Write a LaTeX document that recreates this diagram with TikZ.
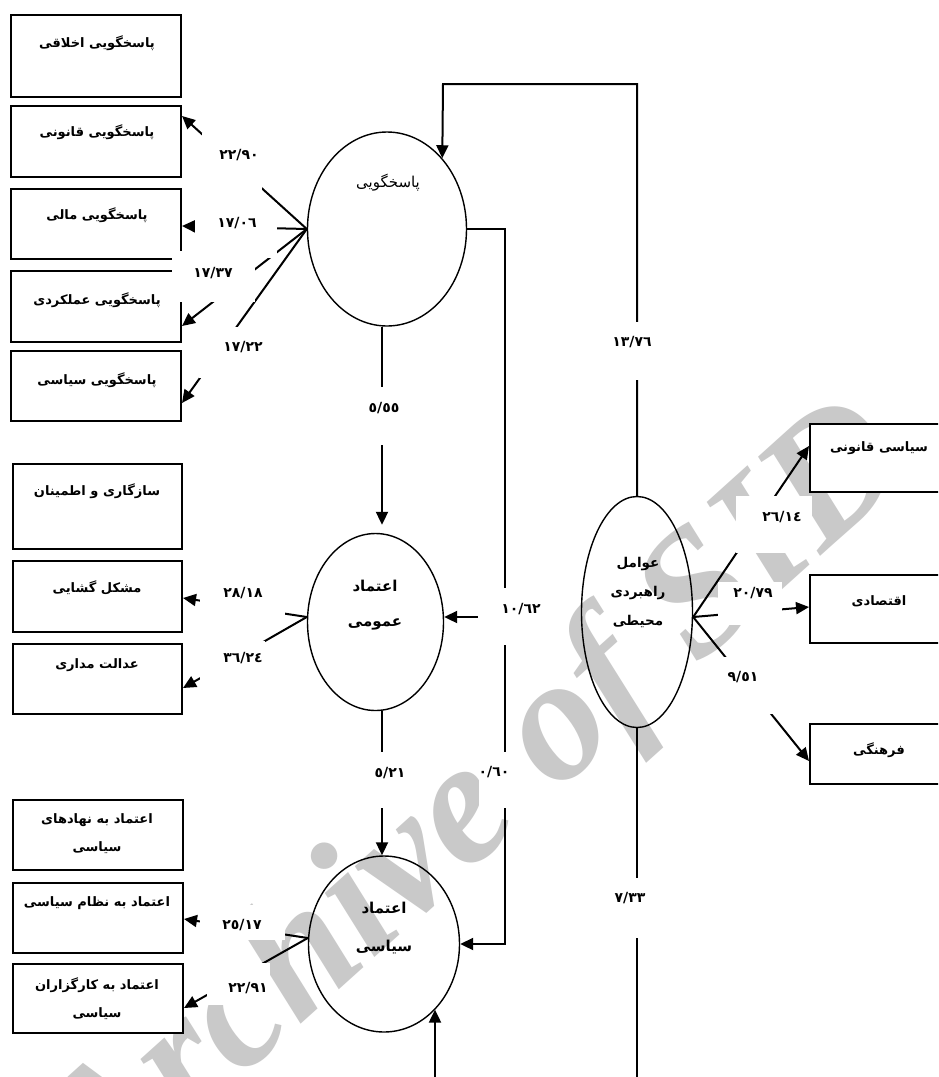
\documentclass[tikz,border=0pt]{standalone}
\usepackage{fontspec}
\usetikzlibrary{arrows.meta,shapes.geometric,calc}
\TeXXeTstate=1
\newfontfamily\arabicfont[Script=Arabic]{DejaVu Sans}
\newfontfamily\wmfont{Liberation Serif}
\newcommand{\fatext}[1]{\beginR #1\endR}
\begin{document}
\begin{tikzpicture}[x=1pt,y=-1pt,
  conn/.style={line width=2pt},
  arr/.style={line width=2pt,-{Triangle[length=13pt,width=12pt]}},
  box/.style={draw,line width=2pt,fill=white,rectangle,inner sep=0pt,anchor=north west},
  oval/.style={draw,line width=1.4pt,ellipse,inner sep=0pt},
  ftxt/.style={font=\arabicfont\bfseries\fontsize{13}{28}\selectfont,align=center,inner sep=0pt},
  num/.style={font=\arabicfont\bfseries\fontsize{14}{16}\selectfont,inner sep=0pt},
  mask/.style={fill=white},
  wm/.style={font=\wmfont\bfseries\itshape\fontsize{176}{176}\selectfont,text=black!21,inner sep=0pt}
]
\useasboundingbox (0,0) rectangle (938,1077);
\fill[white] (0,0) rectangle (938,1077);
\clip (0,0) rectangle (938,1077);

% watermark
\node[wm,rotate=42,anchor=base west] (wmark) at (102,1203) {Archive of SID};

% boxes
\node[box,minimum width=170pt,minimum height=82pt] (b1) at (10,14) {};
\node[box,minimum width=170pt,minimum height=71pt] (b2) at (10,105) {};
\node[box,minimum width=170pt,minimum height=70pt] (b3) at (10,188) {};
\node[box,minimum width=170pt,minimum height=71pt] (b4) at (10,270) {};
\node[box,minimum width=170pt,minimum height=70pt] (b5) at (10,350) {};
\node[box,minimum width=169pt,minimum height=85pt] (b6) at (12,463) {};
\node[box,minimum width=169pt,minimum height=71pt] (b7) at (12,560) {};
\node[box,minimum width=169pt,minimum height=70pt] (b8) at (12,643) {};
\node[box,minimum width=170pt,minimum height=70pt] (b9) at (12,799) {};
\node[box,minimum width=170pt,minimum height=70pt] (b10) at (12,882) {};
\node[box,minimum width=170pt,minimum height=69pt] (b11) at (12,963) {};
\node[box,minimum width=150pt,minimum height=68pt] (r1) at (809,423) {};
\node[box,minimum width=150pt,minimum height=68pt] (r2) at (809,574) {};
\node[box,minimum width=150pt,minimum height=60pt] (r3) at (809,723) {};

% ellipses
\node[oval,minimum width=159pt,minimum height=194pt] (e1) at (387,229) {};
\node[oval,minimum width=136pt,minimum height=177pt] (e2) at (375.5,622) {};
\node[oval,minimum width=151pt,minimum height=176pt] (e3) at (384,944) {};
\node[oval,minimum width=111pt,minimum height=231pt] (e4) at (637,612) {};

% coordinates
\coordinate (top1) at (443,84);
\coordinate (c1) at (505,944);
\coordinate (j1) at (505,617);
\coordinate (bot1) at (435,1085);
\coordinate (bot2) at (637,1085);

% main connectors
\draw[arr] (e4.north) |- (top1) -- (e1.52);
\draw[arr] (e1.east) -| (c1) -- (e3.east);
\draw[arr] (j1) -- (j1 -| e2.east);
\draw[arr,shorten >=8pt] ([xshift=-5pt]e1.south) -- ([xshift=-5pt]e1.south |- e2.north);
\draw[arr] ([xshift=6.5pt]e2.south) -- ([xshift=6.5pt]e2.south |- e3.north);
\draw[arr] (bot1) -- (bot1 |- e3.-52);
\draw[conn] (e4.south) -- (bot2);

% left connectors
\draw[arr] (e1.west) -- ([yshift=25.5pt]b2.east);
\draw[arr] (e1.west) -- ([yshift=-2pt]b3.east);
\draw[arr] (e1.west) -- ([yshift=-19.5pt]b4.east);
\draw[arr] (e1.west) -- ([yshift=-17pt]b5.east);
\draw[arr] ([yshift=5pt]e2.west) -- ([yshift=-1.5pt]b7.east);
\draw[arr] ([yshift=5pt]e2.west) -- ([yshift=-9pt]b8.east);
\draw[arr] ([yshift=6pt]e3.west) -- ([yshift=-1pt]b10.east);
\draw[arr] ([yshift=6pt]e3.west) -- ([yshift=-9.5pt]b11.east);

% right connectors
\draw[arr] ([yshift=-5pt]e4.east) -- ([yshift=12pt]r1.west);
\draw[arr] ([yshift=-5pt]e4.east) -- ([yshift=2pt]r2.west);
\draw[arr] ([yshift=-5pt]e4.east) -- ([yshift=-7pt]r3.west);

% label masks (white text boxes of the original)
\fill[mask] (202,133) rectangle (262,190);
\fill[mask] (195,203) rectangle (277,258);
\fill[mask] (172,251) rectangle (255,302);
\fill[mask] (199,327) rectangle (270,378);
\fill[mask] (360,387) rectangle (410,445);
\fill[mask] (602,322) rectangle (665,380);
\fill[mask] (478,588) rectangle (548,645);
\fill[mask] (200,578) rectangle (285,622);
\fill[mask] (200,641) rectangle (265,690);
\fill[mask] (200,905) rectangle (285,940);
\fill[mask] (207,963) rectangle (270,1005);
\fill[mask] (736,496) rectangle (812,553);
\fill[mask] (718,582) rectangle (782,625);
\fill[mask] (705,657) rectangle (790,714);
\fill[mask] (362,752) rectangle (415,808);
\fill[mask] (479,752) rectangle (515,808);
\fill[mask] (600,878) rectangle (665,938);

% number labels
\node[num] (n1) at (239,155) {٢٢/٩٠};
\node[num] (n2) at (237,223) {١٧/٠٦};
\node[num] (n3) at (213,273) {١٧/٣٧};
\node[num] (n4) at (243,347) {١٧/٢٢};
\node[num] (n5) at (384,408) {٥/٥٥};
\node[num] (n6) at (632,342) {١٣/٧٦};
\node[num] (n7) at (521,609) {١٠/٦٢};
\node[num] (n8) at (243,593) {٢٨/١٨};
\node[num] (n9) at (243,658) {٣٦/٢٤};
\node[num] (n10) at (242,925) {٢٥/١٧};
\node[num] (n11) at (248,988) {٢٢/٩١};
\node[num] (n12) at (782,517) {٢٦/١٤};
\node[num] (n13) at (753,593) {٢٠/٧٩};
\node[num] (n14) at (743,677) {٩/٥١};
\node[num] (n15) at (390,773) {٥/٢١};
\node[num] (n16) at (494,772) {٠/٦٠};
\node[num] (n17) at (630,898) {٧/٣٣};

% box texts
\node[ftxt] (t1) at (97,43) {\fatext{پاسخگویی اخلاقی}};
\node[ftxt] (t2) at (97,132) {\fatext{پاسخگویی قانونی}};
\node[ftxt] (t3) at (97,215) {\fatext{پاسخگویی مالی}};
\node[ftxt] (t4) at (97,300) {\fatext{پاسخگویی عملکردی}};
\node[ftxt] (t5) at (97,380) {\fatext{پاسخگویی سیاسی}};
\node[ftxt] (t6) at (97,491) {\fatext{سازگاری و اطمینان}};
\node[ftxt] (t7) at (97,588) {\fatext{مشکل گشایی}};
\node[ftxt] (t8) at (97,665) {\fatext{عدالت مداری}};
\node[ftxt] (t9) at (97,834) {\fatext{اعتماد به نهادهای}\\\fatext{سیاسی}};
\node[ftxt] (t10) at (97,903) {\fatext{اعتماد به نظام سیاسی}};
\node[ftxt] (t11) at (97,999) {\fatext{اعتماد به کارگزاران}\\\fatext{سیاسی}};
\node[ftxt] (t12) at (879,448) {\fatext{سیاسی قانونی}};
\node[ftxt] (t13) at (879,601) {\fatext{اقتصادی}};
\node[ftxt] (t14) at (879,750) {\fatext{فرهنگی}};

% ellipse texts
\node[ftxt,font=\arabicfont\fontsize{15}{17}\selectfont] (te1) at (388,183) {\fatext{پاسخگویی}};
\node[ftxt,font=\arabicfont\bfseries\fontsize{15}{35}\selectfont] (te2) at (375,605) {\fatext{اعتماد}\\\fatext{عمومی}};
\node[ftxt,font=\arabicfont\bfseries\fontsize{15}{38}\selectfont] (te3) at (384,928) {\fatext{اعتماد}\\\fatext{سیاسی}};
\node[ftxt,font=\arabicfont\bfseries\fontsize{13.5}{29}\selectfont] (te4) at (638,592) {\fatext{عوامل}\\\fatext{راهبردی}\\\fatext{محیطی}};
\end{tikzpicture}
\end{document}
